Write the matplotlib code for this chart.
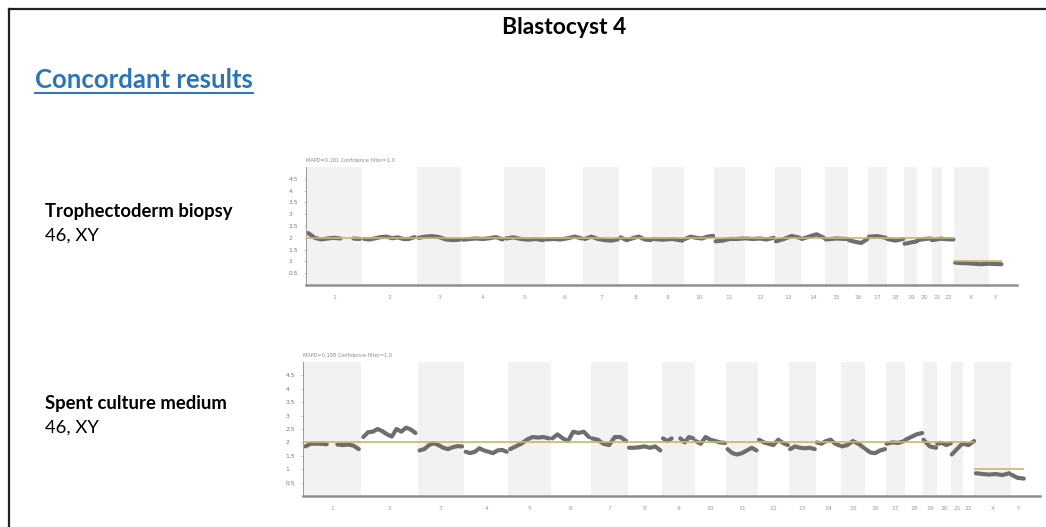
import numpy as np
import matplotlib
matplotlib.use("Agg")
import matplotlib.pyplot as plt
from matplotlib.lines import Line2D

# chromosome names and lengths (Mb)
chroms = [str(i) for i in range(1, 23)] + ["X", "Y"]
chrom_len = [249, 243, 198, 191, 181, 171, 159, 146, 141, 136, 135, 134,
             115, 107, 103, 90, 81, 78, 59, 63, 48, 51, 155, 59]
ploidy = [2] * 22 + [1, 1]

# copy number trace, read per chromosome (nan = gap)
nan = np.nan
tropho_cn = [
    [2.2, 2.0, 1.93, 1.97, 2.0, 1.97, nan, 1.97, 1.95],
    [1.95, 1.93, 1.98, 2.03, 2.05, 1.98, 2.02, 1.95, 1.95, 2.03],
    [2.0, 2.05, 2.07, 2.03, 1.93, 1.9, 1.92],
    [1.92, 1.95, 1.97, 1.95, 1.98, 2.03, 1.93],
    [1.97, 2.02, 1.95, 1.92, 1.95, 1.9],
    [1.93, 1.95, 1.93, 1.98, 2.05, 1.97],
    [1.95, 2.05, 1.95, 1.9, 1.88, 1.93],
    [2.02, 1.9, 1.98, 2.05, 1.93, 1.9],
    [1.95, 1.92, 1.95, 1.88],
    [1.95, 2.05, 2.0, 1.97, 2.05, 2.08],
    [1.85, 1.88, 1.95, 1.95, 1.97],
    [1.97, 1.95, 1.97, 1.93, 2.0],
    [1.85, 1.95, 2.08, 2.0],
    [1.95, 2.05, 2.15, 2.0],
    [1.93, 1.97, 1.95],
    [1.9, 1.83, 1.78, 1.95],
    [2.05, 2.07, 2.0],
    [1.95, 1.88, 1.95],
    [1.75, 1.85],
    [1.9, 1.95, 1.97],
    [1.9, 1.97],
    [1.95, 1.93],
    [0.95, 0.93, 0.92, 0.9, 0.88, 0.9],
    [0.9, 0.88],
]
medium_cn = [
    [1.85, 1.95, 1.95, 1.95, 1.93, nan, 1.92, 1.9, 1.92, 1.88, 1.75],
    [2.2, 2.38, 2.4, 2.5, 2.42, 2.3, 2.22, 2.5, 2.4, 2.55, 2.48, 2.35],
    [1.7, 1.75, 1.9, 1.97, 1.9, 1.8, 1.75, 1.82, 1.86, 1.85],
    [1.65, 1.6, 1.65, 1.78, 1.7, 1.65, 1.6, 1.7, 1.72, 1.65],
    [1.75, 1.85, 1.95, 2.1, 2.2, 2.18, 2.2, 2.15],
    [2.15, 2.3, 2.15, 2.05, 2.4, 2.35, 2.4, 2.2],
    [2.15, 2.1, 1.95, 1.9, 2.2, 2.2, 2.05],
    [1.8, 1.8, 1.82, 1.85, 1.8, 1.85, 1.7],
    [2.15, 2.05, 2.15, nan, 2.15, 2.0, 2.2, 2.15],
    [2.05, 1.95, 2.2, 2.1, 2.05, 2.0, 1.98],
    [1.75, 1.6, 1.55, 1.6, 1.7, 1.8, 1.7],
    [2.1, 2.0, 1.95, 1.9, 2.1, 1.98, 1.9],
    [1.75, 1.85, 1.8, 1.78, 1.8, 1.75],
    [2.0, 1.95, 2.05, 2.1, 1.95, 1.88],
    [1.85, 1.9, 2.05, 1.95, 1.8],
    [1.75, 1.62, 1.6, 1.7, 1.75],
    [1.95, 2.0, 1.98, 2.05],
    [2.1, 2.2, 2.3, 2.35],
    [2.1, 1.85, 1.8],
    [1.95, 1.98, 1.9, 1.97],
    [1.55, 1.75, 1.95],
    [1.95, 1.9, 2.05],
    [0.85, 0.82, 0.8, 0.82, 0.78, 0.85],
    [0.8, 0.68, 0.65],
]
yticks = [0.5, 1, 1.5, 2, 2.5, 3, 3.5, 4, 4.5]

starts = np.concatenate([[0], np.cumsum(chrom_len)[:-1]])
ends = np.cumsum(chrom_len)
centers = (starts + ends) / 2


def draw_cnv(ax, cn, mapd):
    for i in range(len(chroms)):
        if i % 2 == 0:
            ax.axvspan(starts[i], ends[i], color="#f2f2f2", lw=0, zorder=0)
    for i, vals in enumerate(cn):
        L = chrom_len[i]
        x = np.linspace(starts[i] + 0.04 * L, ends[i] - 0.04 * L, len(vals))
        ax.plot(x, vals, color="#6e6e6e", lw=3, solid_capstyle="round",
                solid_joinstyle="round", zorder=2)
        ax.hlines(ploidy[i], starts[i], ends[i], color="#c9b76a", lw=1.2, zorder=3)
    ax.set_xlim(0, 3160)
    ax.set_ylim(0, 5)
    ax.set_yticks(yticks)
    ax.set_yticklabels([f"{t:g}" for t in yticks])
    ax.set_xticks(centers)
    ax.set_xticklabels(chroms)
    ax.tick_params(axis="x", length=0, labelsize=4.3, labelcolor="#9a9a9a", pad=7)
    ax.tick_params(axis="y", length=1.5, width=0.5, color="#aaaaaa",
                   labelsize=4.3, labelcolor="#777777", pad=11)
    for lbl in ax.get_yticklabels():
        lbl.set_horizontalalignment("left")
    for s in ["top", "right"]:
        ax.spines[s].set_visible(False)
    ax.spines["left"].set_color("#9a9a9a")
    ax.spines["left"].set_linewidth(0.7)
    ax.spines["bottom"].set_color("#8f8f8f")
    ax.spines["bottom"].set_linewidth(1.8)
    ax.text(0.0, 1.03, mapd, transform=ax.transAxes, fontsize=3.6,
            color="#888888", ha="left", va="bottom")


W, H = 1046, 527
fig = plt.figure(figsize=(W / 100, H / 100), dpi=100)
fig.patch.set_facecolor("white")

ax1 = fig.add_axes([306 / W, 1 - 285 / H, (1017 - 306) / W, (285 - 167) / H])
draw_cnv(ax1, tropho_cn, "MAPD=0.181 Confidence filter=1.0")
ax2 = fig.add_axes([303 / W, 1 - 496 / H, (1040 - 303) / W, (496 - 362) / H])
draw_cnv(ax2, medium_cn, "MAPD=0.188 Confidence filter=1.0")

# slide frame
fig.add_artist(Line2D([9 / W, 9 / W], [0, 1 - 9 / H], color="#222222", lw=1.6))
fig.add_artist(Line2D([9 / W, 1], [1 - 9 / H, 1 - 9 / H], color="#222222", lw=1.6))

font = "Lato"
fig.text(564 / W, 1 - 28 / H, "Blastocyst 4", fontsize=16.5, fontweight="bold",
         family=font, ha="center", va="center")
t = fig.text(35 / W, 1 - 80 / H, "Concordant results", fontsize=18.5,
             fontweight="bold", family=font, color="#2a74b8", ha="left", va="center")
fig.canvas.draw()
bb = t.get_window_extent().transformed(fig.transFigure.inverted())
fig.add_artist(Line2D([bb.x0, bb.x1], [bb.y0 - 1 / H, bb.y0 - 1 / H],
                      color="#2a74b8", lw=1.4))

for y0, label in [(211, "Trophectoderm biopsy"), (403, "Spent culture medium")]:
    fig.text(45 / W, 1 - y0 / H, label, fontsize=13.3, fontweight="bold",
             family=font, ha="left", va="center")
    fig.text(45 / W, 1 - (y0 + 25) / H, "46, XY", fontsize=13.3,
             family=font, ha="left", va="center")

fig.savefig("out.png", dpi=100)
